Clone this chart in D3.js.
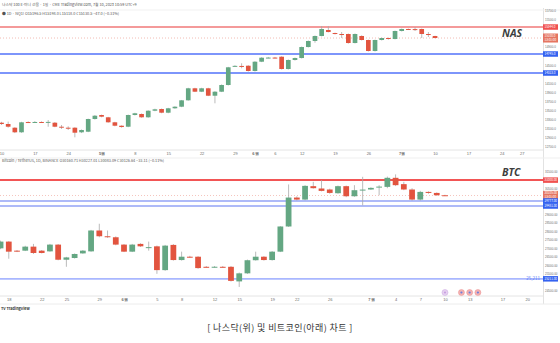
<!DOCTYPE html>
<html><head><meta charset="utf-8">
<script src="https://cdn.jsdelivr.net/npm/d3@7/dist/d3.min.js"></script>
<style>html,body{margin:0;padding:0;background:#fff;}svg{display:block;font-family:"Noto Sans CJK KR","Noto Sans",sans-serif;}</style>
</head><body><svg id="chart" width="560" height="343"></svg>
<script>
// ---------------- NAS (daily, Apr 10 – Jul 10 2023) ----------------
const nasOpen=[13220,13191,13109,13007,13235,13232,13236,13235,13220,13131,13109,13109,13007,13020,13302,13391,13340,13229,13153,13131,13391,13413,13340,13486,13524,13442,13540,13575,13717,13984,13908,13984,13819,13908,14057,14475,14480,14485,14368,14574,14663,14666,14685,14412,14612,14656,14900,15034,15145,15278,15211,15189,15189,14989,15145,15056,14812,15056,15100,15078,15256,15300,15298,15300,15189,15145];
const nasHigh=[13240,13245,13120,13240,13250,13255,13250,13280,13235,13169,13140,13120,13070,13310,13390,13400,13350,13240,13160,13400,13440,13425,13495,13530,13535,13550,13585,13725,13995,13995,13995,13995,13920,14070,14460,14495,14539,14495,14585,14675,14680,14680,14695,14625,14665,14910,15045,15155,15367,15367,15220,15233,15200,15200,15160,15065,15065,15110,15110,15265,15310,15310,15344,15310,15233,15150];
const nasLow=[13170,13110,12990,12995,13215,13220,13215,13131,13120,13080,13058,12896,12990,13010,13290,13340,13220,13140,13110,13120,13380,13330,13330,13475,13430,13430,13530,13565,13710,13900,13900,13810,13651,13900,14045,14465,14428,14355,14355,14565,14650,14648,14400,14400,14600,14645,14890,14996,15135,15225,15180,15100,14975,14980,15045,14800,14800,15045,15065,15070,15245,15285,15256,15100,15122,15095];
const nasClose=[13191,13131,13007,13229,13230,13236,13232,13238,13131,13126,13105,12998,13058,13302,13375,13353,13229,13153,13124,13391,13429,13340,13486,13517,13442,13540,13575,13717,13984,13908,13984,13819,13908,14057,14450,14482,14476,14368,14574,14663,14666,14662,14412,14612,14656,14900,15034,15145,15300,15233,15189,15185,14989,15189,15056,14812,15056,15100,15078,15256,15300,15296,15295,15189,15167,15100];
const nasTimeIdx=[0,5,10,15,20,25,30,35,38,41,45,50,55,60,65,70,75,78];
const nasTimeLabels=["10","17","24","5월","8","15","22","29","6월","6","12","19","26","7월","10","17","24","27"];
const nasPriceTicks=[12700,12900,13100,13300,13500,13700,13900,14100,14300,14500,14700,14900,15100,15300,15500,15700];
const nasResistance=[15344];
const nasSupport=[14745,14323];

// ---------------- BTC (daily, May 17 – Jul 10 2023) ----------------
const btcOpen=[26999,27395,26863,26863,27099,26863,26822,27218,26331,26432,26703,26822,28045,27708,27649,27218,26804,27259,27058,27117,25722,27200,26313,26508,26508,25917,25915,25917,25917,25060,25533,26302,26508,26313,26804,28281,29978,29859,30645,30509,30450,30232,30645,30054,30430,30450,30610,30604,31136,30764,30450,29859,30309,30249,30113];
const btcHigh=[27450,27420,26900,27150,27259,26900,27260,27250,26500,26700,26900,28080,28441,28045,27700,27250,27259,27300,27395,27160,27200,27250,26804,26560,26540,25960,25960,25960,25960,25580,26340,26804,26540,26840,28300,30746,30050,30700,30900,31000,30500,30680,30680,30704,31195,30580,30704,31207,31337,30900,30527,30370,30340,30280,30140];
const btcLow=[26950,26390,26780,26840,26668,26700,26800,26300,25917,26400,26680,26800,27650,27614,27180,26780,26780,27080,26863,25504,25680,26280,26280,26450,25800,25870,25870,25870,25050,24735,25500,26280,26280,26280,26780,28250,29800,29820,30500,30340,30200,30200,30000,30020,29522,30420,30113,30527,30650,30409,29800,29800,30200,30080,30090];
const btcClose=[27395,26804,26804,27099,26727,26727,27218,26331,26467,26668,26863,28045,27708,27661,27218,26804,27218,27117,27070,25722,27158,26313,26508,26500,25841,25910,25920,25912,25090,25533,26302,26508,26313,26804,28281,29978,29859,30663,30527,30368,30249,30645,30054,30409,30445,30545,30620,31136,30704,30450,29859,30309,30249,30113,30105];
const btcTimeIdx=[1,5,8,12,15,19,22,26,29,33,36,40,45,48,51,54,57,61,64];
const btcTimeLabels=["18","22","25","29","6월","5","8","12","15","19","22","26","7월","4","7","10","13","17","20"];
const btcPriceTicks=[24500,25000,25500,26000,26500,27000,27500,28000,28500,29000,29500,30000,30500,31000,31500];
const btcResistance=[31000];
const btcSupport=[29777,29481];
const btcBottom=[25211];
const btcEventIdx=[54,56,57,58];

const caption="[ 나스닥(위) 및 비트코인(아래) 차트 ]";

// ---------------- drawing ----------------
const svg=d3.select("#chart");
const GREEN="#64a783", RED="#e2543f", WICK="#a9a9a9";
const AX=543;

function drawPane(p){
  const g=svg.append("g");
  const x=d3.scaleLinear().domain([0,p.slots]).range([p.x0,p.x0+p.slots*p.step]);
  const y=d3.scaleLinear().domain(p.domain).range([p.bottom,p.top]);
  const clipId="clip"+p.name;
  svg.append("clipPath").attr("id",clipId).append("rect").attr("x",0).attr("y",p.top-4).attr("width",AX).attr("height",p.bottom-p.top+4);
  const plot=g.append("g").attr("clip-path",`url(#${clipId})`);

  p.res.forEach(v=>plot.append("line").attr("x1",0).attr("x2",AX).attr("y1",y(v)).attr("y2",y(v)).attr("stroke",p.resColor).attr("stroke-width",2));
  p.sup.forEach(v=>plot.append("line").attr("x1",0).attr("x2",AX).attr("y1",y(v)).attr("y2",y(v)).attr("stroke",p.supColor).attr("stroke-width",2));
  (p.extra||[]).forEach(v=>plot.append("line").attr("x1",0).attr("x2",AX).attr("y1",y(v)).attr("y2",y(v)).attr("stroke","#a9b7ff").attr("stroke-width",1.6));
  const last=p.close[p.close.length-1];
  plot.append("line").attr("x1",0).attr("x2",AX).attr("y1",y(last)).attr("y2",y(last)).attr("stroke",RED).attr("stroke-width",0.7).attr("stroke-dasharray","1,2").attr("opacity",0.55);

  const idx=d3.range(p.open.length);
  const bw=p.step*0.7;
  plot.selectAll(".w").data(idx).join("line")
    .attr("x1",i=>x(i)).attr("x2",i=>x(i))
    .attr("y1",i=>y(p.high[i])).attr("y2",i=>y(p.low[i]))
    .attr("stroke",WICK).attr("stroke-width",0.8);
  plot.selectAll(".b").data(idx).join("rect")
    .attr("x",i=>x(i)-bw/2).attr("width",bw)
    .attr("y",i=>y(Math.max(p.open[i],p.close[i])))
    .attr("height",i=>Math.max(1,Math.abs(y(p.open[i])-y(p.close[i]))))
    .attr("fill",i=>p.close[i]>=p.open[i]?GREEN:RED);

  // boxes (value, half-height) to hide colliding ticks, like the price scale does
  const boxes=[];
  p.res.forEach(v=>boxes.push([v,2.75]));
  boxes.push([last,4.5]);
  p.sup.forEach(v=>boxes.push([v,2.75]));
  (p.extra||[]).forEach(v=>boxes.push([v,2.75]));
  const visTicks=p.ticks.filter(t=>boxes.every(([v,h])=>Math.abs(y(t)-y(v))>h+2));

  const ya=g.append("g").attr("transform",`translate(${AX},0)`)
    .call(d3.axisRight(y).tickValues(visTicks).tickSize(0).tickPadding(2).tickFormat(d=>d.toFixed(p.dec)));
  ya.select(".domain").remove();
  ya.selectAll("text").attr("font-size",3).attr("fill","#6b6b6b");

  const xa=g.append("g").attr("transform",`translate(0,${p.bottom})`)
    .call(d3.axisBottom(x).tickValues(p.tIdx).tickSize(0).tickPadding(p.tPad).tickFormat((d,i)=>p.tLab[i]));
  xa.select(".domain").attr("stroke","#e4e4e4").attr("d",`M0,0H${AX}`);
  xa.selectAll("text").attr("font-size",4).attr("fill","#6b6b6b").attr("font-weight",(d,i)=>p.tLab[i].includes("월")?"bold":"normal");

  g.append("text").attr("x",502).attr("y",p.labelY).attr("font-family","'Open Sans','DejaVu Sans',sans-serif").attr("font-size",10.5).attr("font-weight","bold").attr("font-style","italic").attr("fill","#3d3d3d").text(p.name);

  function box(v,fill,h,lines){
    const b=g.append("g").attr("transform",`translate(${AX},${y(v)})`);
    b.append("rect").attr("x",0).attr("y",-h/2).attr("width",15).attr("height",h).attr("fill",fill);
    lines.forEach((t,k)=>b.append("text").attr("x",1.5).attr("y",-h/2+3.5+k*4).attr("font-size",3).attr("fill","#fff").text(t));
  }
  p.res.forEach(v=>box(v,"#f0514f",5.5,[v.toFixed(p.dec)]));
  box(last,"#e57561",9,[last.toFixed(p.dec),"13:01:00"]);
  p.sup.forEach(v=>box(v,"#3462f0",5.5,[v.toFixed(p.dec)]));
  (p.extra||[]).forEach(v=>box(v,"#3462f0",5.5,[v.toFixed(p.dec)]));
  return {x,y,g};
}

svg.append("line").attr("x1",AX+0.5).attr("x2",AX+0.5).attr("y1",8).attr("y2",304).attr("stroke","#e2e2e2");
svg.append("line").attr("x1",0).attr("x2",560).attr("y1",10).attr("y2",10).attr("stroke","#f1f1f1");
svg.append("line").attr("x1",0).attr("x2",560).attr("y1",158).attr("y2",158).attr("stroke","#efefef");
svg.append("line").attr("x1",0).attr("x2",560).attr("y1",304).attr("y2",304).attr("stroke","#ececec");

const nas=drawPane({name:"NAS",open:nasOpen,high:nasHigh,low:nasLow,close:nasClose,slots:81,x0:1.5,step:6.67,
  domain:[12614,15722],top:10,bottom:150,ticks:nasPriceTicks,dec:1,tIdx:nasTimeIdx,tLab:nasTimeLabels,tPad:2,
  res:nasResistance,sup:nasSupport,resColor:"#f49a9a",supColor:"#7d95fb",labelY:37});
const btc=drawPane({name:"BTC",open:btcOpen,high:btcHigh,low:btcLow,close:btcClose,slots:66,x0:0.55,step:8.23,
  domain:[24204,31887],top:165,bottom:296,ticks:btcPriceTicks,dec:2,tIdx:btcTimeIdx,tLab:btcTimeLabels,tPad:2,
  res:btcResistance,sup:btcSupport,extra:btcBottom,resColor:"#f25555",supColor:"#aebaf8",labelY:176});

svg.append("text").attr("x",540).attr("y",btc.y(btcBottom[0])+1.5).attr("text-anchor","end").attr("font-size",4.5).attr("fill","#5b7cf5").text(d3.format(",")(btcBottom[0]));

svg.selectAll(".ev").data(btcEventIdx).join("g").each(function(d,i){
  const gg=d3.select(this).attr("transform",`translate(${btc.x(d)},292.5)`);
  gg.append("circle").attr("r",3).attr("fill",i===0?"#e6d2f0":"#f2b3b3").attr("stroke",i===0?"#c9a4e0":"#ec8e8e").attr("stroke-width",0.5);
  gg.append("circle").attr("r",1.1).attr("fill",i===0?"#c89ee0":"#6a7fe0");
});

svg.append("text").attr("x",2).attr("y",6).attr("font-size",3.8).attr("fill","#555").text("나스닥 100 E-미니 선물 · 1일 · CME   TradingView.com, 7월 10, 2023 10:59 UTC+9");
svg.append("text").attr("x",2).attr("y",15).attr("font-size",3.8).attr("fill","#555").text("● 1D · NQ1!  O15196.5  H15198.0  L15118.0  C15130.5  −47.0 (−0.31%)");
svg.append("text").attr("x",2).attr("y",162).attr("font-size",3.8).attr("fill","#555").text("Bitcoin / TetherUS, 1D, BINANCE  O30160.71  H30227.01  L30083.09  C30126.64  −33.11 (−0.11%)");
svg.append("text").attr("x",1).attr("y",310).attr("font-size",3.8).attr("font-weight","bold").attr("fill","#333").text("TV TradingView");

svg.append("text").attr("x",280).attr("y",331).attr("text-anchor","middle").attr("font-size",9).attr("letter-spacing",0.4).attr("fill","#333").text(caption);
</script></body></html>
